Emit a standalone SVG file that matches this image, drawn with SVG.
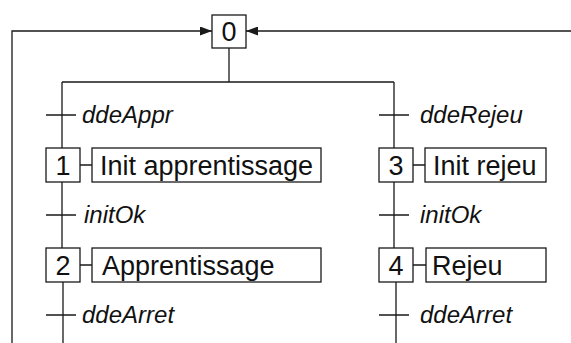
<svg xmlns="http://www.w3.org/2000/svg" width="571" height="343" viewBox="0 0 571 343">
<style>
.ln{fill:none;stroke:#1a1a1a;stroke-width:1.3}
.bx{fill:#fff;stroke:#1a1a1a;stroke-width:1.3}
.st{font-family:"Liberation Sans",Arial,sans-serif;font-size:27px;fill:#111;text-anchor:middle}
.ac{font-family:"Liberation Sans",Arial,sans-serif;font-size:27px;fill:#111}
.tr{font-family:"Liberation Sans",Arial,sans-serif;font-size:24px;font-style:italic;fill:#111}
</style>
<defs>
<marker id="ah" viewBox="0 0 12 9" refX="12" refY="4.5" markerWidth="12" markerHeight="9" markerUnits="userSpaceOnUse" orient="auto">
<path d="M0,0 L12,4.5 L0,9 Z" fill="#1a1a1a"/>
</marker>
</defs>
<g id="connectors">
<path class="ln" d="M12,343 V31 H212" marker-end="url(#ah)"/>
<path class="ln" d="M571,31 H246" marker-end="url(#ah)"/>
<path class="ln" d="M229,48 V82 M62,82 H394"/>
<path class="ln" d="M62,82 V148 M62,182 V248 M63,282 V343"/>
<path class="ln" d="M394,82 V148 M394,182 V248 M396,282 V343"/>
<path class="ln" d="M46,115 H76 M46,215 H76 M46,315 H76"/>
<path class="ln" d="M379,115 H409 M379,215 H409 M379,315 H409"/>
<path class="ln" d="M80,165 H92 M80,265 H92 M413,165 H425 M413,265 H426"/>
</g>
<g id="step0"><rect class="bx" x="212" y="15" width="34" height="33"/><text class="st" x="229" y="41">0</text></g>
<g id="t-ddeAppr"><text class="tr" x="82" y="123">ddeAppr</text></g>
<g id="step1"><rect class="bx" x="46" y="148" width="34" height="34"/><text class="st" x="63" y="175">1</text></g>
<g id="action1"><rect class="bx" x="92" y="148" width="229" height="34"/><text class="ac" x="100" y="175">Init apprentissage</text></g>
<g id="t-initOk1"><text class="tr" x="84" y="223">initOk</text></g>
<g id="step2"><rect class="bx" x="46" y="248" width="34" height="34"/><text class="st" x="63" y="275">2</text></g>
<g id="action2"><rect class="bx" x="92" y="248" width="229" height="34"/><text class="ac" x="102" y="275">Apprentissage</text></g>
<g id="t-ddeArret1"><text class="tr" x="82" y="323">ddeArret</text></g>
<g id="t-ddeRejeu"><text class="tr" x="420" y="123">ddeRejeu</text></g>
<g id="step3"><rect class="bx" x="379" y="148" width="34" height="34"/><text class="st" x="396" y="175">3</text></g>
<g id="action3"><rect class="bx" x="425" y="148" width="121" height="34"/><text class="ac" x="433" y="175">Init rejeu</text></g>
<g id="t-initOk2"><text class="tr" x="420" y="223">initOk</text></g>
<g id="step4"><rect class="bx" x="379" y="248" width="34" height="34"/><text class="st" x="396" y="275">4</text></g>
<g id="action4"><rect class="bx" x="426" y="248" width="120" height="34"/><text class="ac" x="432" y="275">Rejeu</text></g>
<g id="t-ddeArret2"><text class="tr" x="420" y="323">ddeArret</text></g>
</svg>
